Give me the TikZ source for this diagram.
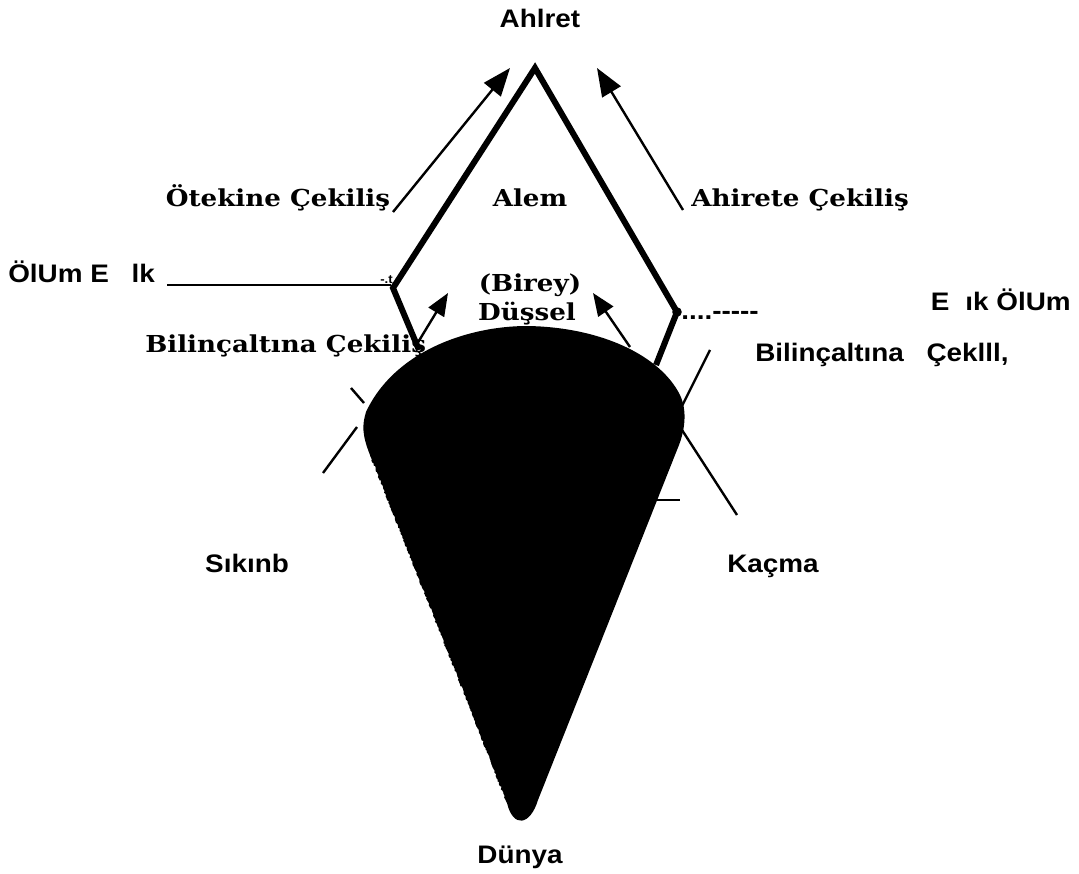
\documentclass[tikz,border=0pt]{standalone}
\usepackage{fontspec}
\usetikzlibrary{arrows.meta,decorations.pathmorphing}
\newfontfamily\sansb{Liberation Sans}[FakeStretch=1.1]
\newfontfamily\serifb{DejaVu Serif}[FakeStretch=1.12]
\tikzset{
  sanslabel/.style={inner sep=0pt, anchor=base, font=\sansb\bfseries\fontsize{19}{22}\selectfont},
  seriflabel/.style={inner sep=0pt, anchor=base, font=\serifb\bfseries\fontsize{17.5}{20}\selectfont},
  thickedge/.style={line width=4.5pt, line join=miter, line cap=butt},
  thinline/.style={line width=1.8pt},
  bigarrow/.style={line width=1.8pt, -{Triangle[length=21pt,width=16pt]}},
  smallarrow/.style={line width=1.8pt, -{Triangle[length=17pt,width=13.5pt]}},
}
\begin{document}
\begin{tikzpicture}[x=0.75pt,y=-0.75pt]
\useasboundingbox (0,0) rectangle (1079,874);
% black cone (Dünya)
\fill[black] (366,412) .. controls (395,350) and (470,326) .. (527,326)
  .. controls (600,327) and (660,355) .. (680,395)
  .. controls (688,412) and (684,432) .. (679,445)
  -- (538,800) .. controls (530,826) and (513,828) .. (507,803)
  decorate[decoration={random steps,segment length=1.2pt,amplitude=0.6pt}]{ -- (370,455)}
  .. controls (362,435) and (362,425) .. (366,412) -- cycle;
% outline of Alem
\coordinate (apex) at (535,68);
\coordinate (lc) at (393,288);
\coordinate (rc) at (677,312);
\coordinate (lend) at (419,350);
\coordinate (rend) at (656,365);
\draw[thickedge] (lend) -- (lc) -- (apex) -- (rc) -- (rend);
\fill (rc) circle[radius=3.6pt];
% labels
\node[sanslabel] (ahiret) at (540,28) {Ahlret};
\node[seriflabel] (oteki) at (278,206) {Ötekine Çekiliş};
\node[seriflabel] (alem) at (530,206) {Alem};
\node[seriflabel] (ahirete) at (800,206) {Ahirete Çekiliş};
\node[sanslabel, anchor=base west] (olumL) at (8,282) {ÖlUm E\hspace{17pt}lk};
\node[inner sep=0pt, anchor=base west, font=\sansb\bfseries\fontsize{9}{10}\selectfont] (tmark) at (380,283) {-.t};
\node[seriflabel] (birey) at (530,291) {(Birey)};
\node[seriflabel] (dussel) at (527,320) {Düşsel};
\node[seriflabel, anchor=base west] (bilL) at (145,352) {Bilinçaltına Çekiliş};
\node[sanslabel, anchor=base west] (dots) at (681,319) {....-----};
\node[sanslabel, anchor=base east] (olumR) at (1071,310) {E\hspace{12pt}ık ÖlUm};
\node[sanslabel, anchor=base west] (bilR) at (755,361) {Bilinçaltına\hspace{17pt}Çeklll,};
\node[sanslabel] (sikinti) at (247,572) {Sıkınb};
\node[sanslabel] (kacma) at (773,572) {Kaçma};
\node[sanslabel] (dunya) at (520,863) {Dünya};
% connectors
\coordinate (a1s) at (393,212); \coordinate (a1e) at (510,68);
\coordinate (a2s) at (683,210); \coordinate (a2e) at (597,68);
\coordinate (a3s) at (417,344); \coordinate (a3e) at (448,293);
\coordinate (a4s) at (630,347); \coordinate (a4e) at (593,293);
\draw[bigarrow] (a1s) -- (a1e);
\draw[bigarrow] (a2s) -- (a2e);
\draw[smallarrow] (a3s) -- (a3e);
\draw[smallarrow] (a4s) -- (a4e);
\coordinate (hl) at (167,285);
\coordinate (hr) at (391,285);
\draw[line width=1.6pt] (hl) -- (hr);
\coordinate (s1) at (323,473); \coordinate (s2) at (357,427);
\draw[thinline] (s1) -- (s2);
\coordinate (s3) at (351,388); \coordinate (s4) at (364,403);
\draw[thinline] (s3) -- (s4);
\coordinate (k1) at (680,410); \coordinate (k2) at (710,350);
\draw[thinline] (k1) -- (k2);
\coordinate (k3) at (682,430); \coordinate (k4) at (737,515);
\draw[thinline] (k3) -- (k4);
\coordinate (k5) at (653,500); \coordinate (k6) at (680,500);
\draw[thinline] (k5) -- (k6);
\end{tikzpicture}
\end{document}
